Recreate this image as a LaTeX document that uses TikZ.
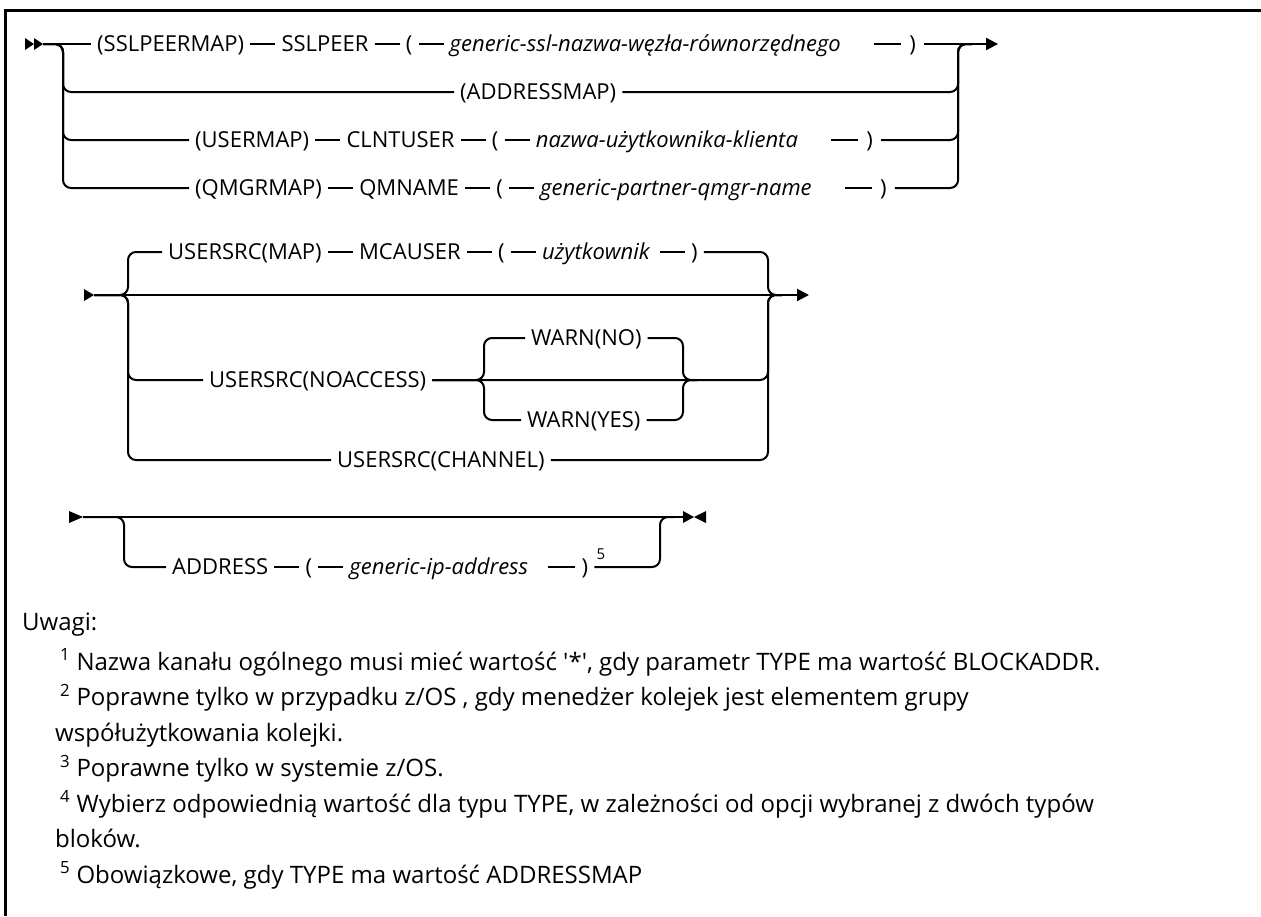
\documentclass[tikz,border=0pt]{standalone}
\usepackage{fontspec}
\setmainfont{Open Sans}
\usetikzlibrary{positioning,calc,arrows.meta}
\newcommand{\railfont}{\fontsize{22pt}{26pt}\selectfont}
\newcommand{\notefont}{\fontsize{24pt}{28pt}\selectfont}
\begin{document}
\begin{tikzpicture}[x=1pt,y=-1pt,
  kw/.style={font=\railfont, inner sep=0pt, text height=15pt, text depth=0pt, anchor=west},
  var/.style={kw, font=\railfont\itshape},
  note/.style={font=\notefont, inner sep=0pt, anchor=base west},
  sup/.style={font=\fontsize{15pt}{17pt}\selectfont, inner sep=0pt, anchor=base west},
  lw/.style={line width=2pt},
  conn/.style={lw, shorten <=6pt, shorten >=6pt},
  rail/.style={lw, rounded corners=8pt},
  tip/.style={-{Triangle[length=12pt,width=12pt]}},
]
\useasboundingbox (0,0) rectangle (1261,916);
% frame
\draw[line width=3pt] (5,916) -- (5,10) -- (1261,10);

% ---------------- first block: mapping type ----------------
\coordinate (start1) at (43,44);
\coordinate (B1) at (63,44);
\fill (start1) ++(-18,-6) -- ++(9,6) -- ++(-9,6) -- cycle;
\fill (start1) ++(-9,-6) -- ++(9,6) -- ++(-9,6) -- cycle;

\node[kw] (sslmap) at (97,44) {(SSLPEERMAP)};
\node[kw, right=37pt of sslmap] (sslpeer) {SSLPEER};
\node[kw, right=37pt of sslpeer] (openA) {(};
\node[var, right=37pt of openA] (varA) {generic-ssl-nazwa-węzła-równorzędnego};
\node[kw, right=68pt of varA] (closeA) {)};

\coordinate (J1) at ($(closeA.east)+(42,0)$);
\coordinate (J1r) at ($(J1)+(14,0)$);
\coordinate (end1) at ($(J1)+(40,0)$);

\draw[lw, shorten >=6pt] (start1) -- (sslmap.west);
\draw[conn] (sslmap.east) -- (sslpeer.west);
\draw[conn] (sslpeer.east) -- (openA.west);
\draw[conn] (openA.east) -- (varA.west);
\draw[lw, shorten <=33pt, shorten >=8pt] (varA.east) -- (closeA.west);
\draw[lw, tip, shorten <=8pt] (closeA.east) -- (end1);

\node[kw] (addrmap) at (460,92) {(ADDRESSMAP)};
\draw[rail, shorten >=6pt] (start1) -| (B1 |- addrmap) -- (addrmap.west);
\draw[rail, shorten <=6pt] (addrmap.east) -| (J1) -- (J1r);

\node[kw] (usermap) at (195,140) {(USERMAP)};
\node[kw, right=37pt of usermap] (clntuser) {CLNTUSER};
\node[kw, right=37pt of clntuser] (openB) {(};
\node[var, right=37pt of openB] (varB) {nazwa-użytkownika-klienta};
\node[kw, right=68pt of varB] (closeB) {)};
\draw[rail, shorten >=6pt] (start1) -| (B1 |- usermap) -- (usermap.west);
\draw[conn] (usermap.east) -- (clntuser.west);
\draw[conn] (clntuser.east) -- (openB.west);
\draw[conn] (openB.east) -- (varB.west);
\draw[lw, shorten <=33pt, shorten >=8pt] (varB.east) -- (closeB.west);
\draw[rail, shorten <=8pt] (closeB.east) -| (J1) -- (J1r);

\node[kw] (qmgrmap) at (195,188) {(QMGRMAP)};
\node[kw, right=37pt of qmgrmap] (qmname) {QMNAME};
\node[kw, right=37pt of qmname] (openC) {(};
\node[var, right=37pt of openC] (varC) {generic-partner-qmgr-name};
\node[kw, right=68pt of varC] (closeC) {)};
\draw[rail, shorten >=6pt] (start1) -| (B1 |- qmgrmap) -- (qmgrmap.west);
\draw[conn] (qmgrmap.east) -- (qmname.west);
\draw[conn] (qmname.east) -- (openC.west);
\draw[conn] (openC.east) -- (varC.west);
\draw[lw, shorten <=33pt, shorten >=8pt] (varC.east) -- (closeC.west);
\draw[rail, shorten <=8pt] (closeC.east) -| (J1) -- (J1r);

% ---------------- second block: user source ----------------
\coordinate (start2) at (94,295);
\coordinate (B2) at (128,295);
\coordinate (J2) at (768,295);
\coordinate (J2r) at (782,295);
\coordinate (end2) at (809,295);
\fill (start2) ++(-10,-6) -- ++(10,6) -- ++(-10,6) -- cycle;
\draw[lw, tip] (start2) -- (end2);

\node[kw] (usmap) at (168,252) {USERSRC(MAP)};
\node[kw, right=37pt of usmap] (mcauser) {MCAUSER};
\node[kw, right=37pt of mcauser] (openD) {(};
\node[var, right=37pt of openD] (varD) {użytkownik};
\node[kw, right=41pt of varD] (closeD) {)};
\draw[rail, shorten >=6pt] (start2) -| (B2 |- usmap) -- (usmap.west);
\draw[conn] (usmap.east) -- (mcauser.west);
\draw[conn] (mcauser.east) -- (openD.west);
\draw[conn] (openD.east) -- (varD.west);
\draw[lw, shorten <=10pt, shorten >=6pt] (varD.east) -- (closeD.west);
\draw[rail, shorten <=6pt] (closeD.east) -| (J2) -- (J2r);

\node[kw] (usnoacc) at (209,380) {USERSRC(NOACCESS)};
\coordinate (B3) at (484,380);
\coordinate (J3) at (683,380);
\coordinate (J3r) at (697,380);
\draw[rail, shorten >=6pt] (start2) -| (B2 |- usnoacc) -- (usnoacc.west);
\draw[rail, shorten <=6pt] (usnoacc.east) -| (J2) -- (J2r);

\node[kw] (warnno) at (531,338) {WARN(NO)};
\node[kw] (warnyes) at (527,420) {WARN(YES)};
\draw[rail, shorten <=6pt, shorten >=6pt] (usnoacc.east) -| (B3 |- warnno) -- (warnno.west);
\draw[rail, shorten <=6pt, shorten >=6pt] (usnoacc.east) -| (B3 |- warnyes) -- (warnyes.west);
\draw[rail, shorten <=6pt] (warnno.east) -| (J3) -- (J3r);
\draw[rail, shorten <=6pt] (warnyes.east) -| (J3) -- (J3r);

\node[kw] (uschan) at (337,460) {USERSRC(CHANNEL)};
\draw[rail, shorten >=6pt] (start2) -| (B2 |- uschan) -- (uschan.west);
\draw[rail, shorten <=6pt] (uschan.east) -| (J2) -- (J2r);

% ---------------- third block: address ----------------
\coordinate (start3) at (83,517);
\coordinate (B4) at (124,517);
\coordinate (J4) at (660,517);
\coordinate (J4r) at (674,517);
\coordinate (end3) at (683,517);
\fill (start3) ++(-14,-6) -- ++(14,6) -- ++(-14,6) -- cycle;
\draw[lw] (start3) -- (end3);
\fill (end3) ++(0,-6) -- ++(11,6) -- ++(-11,6) -- cycle;
\fill (end3) ++(23,-6) -- ++(-12,6) -- ++(12,6) -- cycle;

\node[kw] (addr) at (172,567) {ADDRESS};
\node[kw, right=37pt of addr] (openE) {(};
\node[var, right=37pt of openE] (varE) {generic-ip-address};
\node[kw, right=53pt of varE] (closeE) {)};
\node[sup] (noteref) at ($(closeE.east)+(8,-8)$) {5};
\draw[rail, shorten >=6pt] (start3) -| (B4 |- addr) -- (addr.west);
\draw[conn] (addr.east) -- (openE.west);
\draw[conn] (openE.east) -- (varE.west);
\draw[lw, shorten <=20pt, shorten >=6pt] (varE.east) -- (closeE.west);
\draw[rail, shorten <=6pt] (closeE.east) -| (J4) -- (J4r);

% ---------------- notes ----------------
\node[note] (uwagi) at (22,630) {Uwagi:};
\node[note] (n1) at (60,670) {\textsuperscript{1} Nazwa kanału ogólnego musi mieć wartość \textquotesingle*\textquotesingle, gdy parametr TYPE ma wartość BLOCKADDR.};
\node[note] (n2) at (60,705.5) {\textsuperscript{2} Poprawne tylko w przypadku z/OS , gdy menedżer kolejek jest elementem grupy};
\node[note] (n2b) at (55,741) {współużytkowania kolejki.};
\node[note] (n3) at (60,776.5) {\textsuperscript{3} Poprawne tylko w systemie z/OS.};
\node[note] (n4) at (60,812) {\textsuperscript{4} Wybierz odpowiednią wartość dla typu TYPE, w zależności od opcji wybranej z dwóch typów};
\node[note] (n4b) at (55,847.5) {bloków.};
\node[note] (n5) at (60,883) {\textsuperscript{5} Obowiązkowe, gdy TYPE ma wartość ADDRESSMAP};
\end{tikzpicture}
\end{document}
